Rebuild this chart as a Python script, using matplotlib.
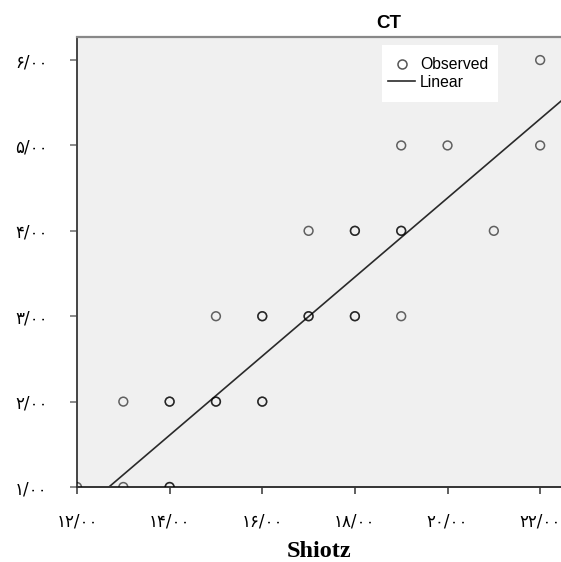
#!/usr/bin/env python3
"""Scatter of CT against Shiotz with a linear fit line (SPSS style)."""
import matplotlib
matplotlib.use('Agg')
import matplotlib.pyplot as plt
from matplotlib.lines import Line2D
from matplotlib.patches import Rectangle

# observed points (repeated pairs are overlapping markers in the original)
shiotz = [12, 13, 14, 14, 13, 14, 14, 15, 15, 16, 16,
          15, 16, 16, 17, 17, 18, 18, 19,
          17, 18, 18, 19, 19, 21,
          19, 20, 22, 22]
ct = [1, 1, 1, 1, 2, 2, 2, 2, 2, 2, 2,
      3, 3, 3, 3, 3, 3, 3, 3,
      4, 4, 4, 4, 4, 4,
      5, 5, 5, 6]

# fitted line as drawn in the reference
fit_slope = 0.463
fit_intercept = -4.875

x_ticks = [12, 14, 16, 18, 20, 22]
y_ticks = [1, 2, 3, 4, 5, 6]
x_range = (12, 22.45)
y_range = (1, 6.27)

PERSIAN = str.maketrans('0123456789', '۰۱۲۳۴۵۶۷۸۹')


def fa_label(v):
    return f'{v:.2f}'.replace('.', '/').translate(PERSIAN)


W, H = 561, 562
fig = plt.figure(figsize=(W / 100, H / 100), dpi=100)
ax = fig.add_axes([77 / W, 1 - 487 / H, 1 - 77 / W, (487 - 37) / H])
ax.set_facecolor('#f0f0f0')

ax.scatter(shiotz, ct, s=40, facecolors='none', edgecolors='black',
           linewidths=1.1, alpha=0.6, zorder=3)
ax.plot(list(x_range), [fit_intercept + fit_slope * v for v in x_range],
        color='#2a2a2a', linewidth=1.2, zorder=2)

ax.set_xlim(*x_range)
ax.set_ylim(*y_range)
ax.set_xticks(x_ticks)
ax.set_yticks(y_ticks)
ax.set_xticklabels([fa_label(v) for v in x_ticks], family=['DejaVu Sans'], fontsize=12)
ax.set_yticklabels([fa_label(v) for v in y_ticks], family=['DejaVu Sans'], fontsize=12)
ax.tick_params(axis='x', direction='out', length=5, width=1.2, color='#444', pad=13)
ax.tick_params(axis='y', direction='out', length=5, width=1.2, color='#777', pad=16)

ax.spines['right'].set_visible(False)
ax.spines['top'].set_color('#888')
ax.spines['top'].set_linewidth(1.6)
ax.spines['left'].set_color('#444')
ax.spines['left'].set_linewidth(1.4)
ax.spines['bottom'].set_color('#333')
ax.spines['bottom'].set_linewidth(1.4)

ax.set_xlabel('Shiotz', family='Liberation Serif', fontweight='bold', fontsize=17.5, labelpad=8)
fig.text(389 / W, 1 - 24 / H, 'CT', ha='center', va='center',
         family='Liberation Sans', fontweight='bold', fontsize=13.5)

# legend: white box, frameless entries inside it
fig.add_artist(Rectangle((382 / W, 1 - 102 / H), 116 / W, 57 / H,
                         transform=fig.transFigure, facecolor='white',
                         edgecolor='none', zorder=4))
handles = [Line2D([], [], marker='o', linestyle='none', markerfacecolor='none',
                  markeredgecolor='#555', markersize=6.5, markeredgewidth=1.1),
           Line2D([], [], color='#2a2a2a', linewidth=1.2)]
leg = fig.legend(handles, ['Observed', 'Linear'], loc='center left',
                 bbox_to_anchor=(388 / W, 1 - 73.5 / H),
                 prop={'family': 'Liberation Sans', 'size': 11.3},
                 frameon=False, handlelength=1.75, handletextpad=0.3,
                 labelspacing=0.15, borderpad=0, borderaxespad=0)
leg.set_zorder(5)

fig.savefig('out.png', dpi=100)
plt.close(fig)
